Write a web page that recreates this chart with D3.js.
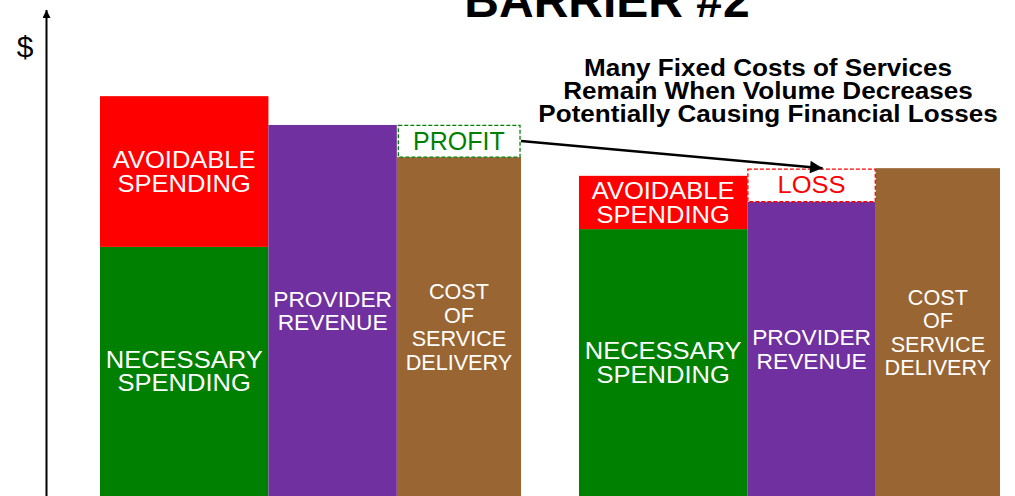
<!DOCTYPE html>
<html>
<head>
<meta charset="utf-8">
<script src="https://cdn.jsdelivr.net/npm/d3@7/dist/d3.min.js"></script>
<style>
  html, body { margin: 0; padding: 0; background: #fff; }
  svg { display: block; font-family: "Liberation Sans", Arial, sans-serif; }
</style>
</head>
<body>
<svg id="chart" width="1015" height="496"></svg>
<script>
// ---- data ----
const scenarios = ["Normal Volume", "Decreased Volume"];
const necessarySpending = [51.9, 55.6];
const avoidableSpending = [31.4, 11.1];
const providerRevenue = [77.3, 61.3];
const costOfServiceDelivery = [70.6, 68.3];

const titleText = "BARRIER #2";
const axisLabel = "$";
const annotationLines = ["Many Fixed Costs of Services", "Remain When Volume Decreases", "Potentially Causing Financial Losses"];
const necessaryLabel = ["NECESSARY", "SPENDING"];
const avoidableLabel = ["AVOIDABLE", "SPENDING"];
const revenueLabel = ["PROVIDER", "REVENUE"];
const costLabel = ["COST", "OF", "SERVICE", "DELIVERY"];
const profitLabel = "PROFIT";
const lossLabel = "LOSS";

// ---- layout ----
const svg = d3.select("#chart");
const C = { red: "#ff0000", green: "#008000", purple: "#7030a0", brown: "#996633" };

const y = d3.scaleLinear().domain([0, 100]).range([496, 16]);
const xGroup = d3.scaleBand().domain(scenarios).range([100, 1000]).paddingInner(0.121).paddingOuter(0);
const colShare = [0.40, 0.305, 0.295];
function col(g, i) {
  const x0 = xGroup(g), bw = xGroup.bandwidth();
  let start = x0;
  for (let k = 0; k < i; k++) start += bw * colShare[k];
  return { x: start, w: bw * colShare[i] };
}

// style per label kind: font size, horizontal stretch
const ST = {
  spend: { fs: 23, sx: 1.11 },
  rev: { fs: 22.3, sx: 1.02 },
  cost: { fs: 22.3, sx: 0.97 },
  profit: { fs: 25, sx: 1.0 },
  loss: { fs: 23, sx: 1.11 }
};
const lh = 23.6;
function multiLabel(lines, cx, cy, color, st) {
  const n = lines.length, capH = 0.716 * st.fs;
  const t = svg.append("text").attr("text-anchor", "middle").attr("font-size", st.fs).attr("fill", color)
    .attr("transform", `translate(${cx},0) scale(${st.sx},1) translate(${-cx},0)`);
  lines.forEach((l, i) => {
    t.append("tspan").attr("x", cx).attr("y", cy + (i - (n - 1) / 2) * lh + capH / 2).text(l);
  });
}

scenarios.forEach((g, gi) => {
  const nec = necessarySpending[gi], av = avoidableSpending[gi];
  const rev = providerRevenue[gi], cost = costOfServiceDelivery[gi];
  const c0 = col(g, 0), c1 = col(g, 1), c2 = col(g, 2);

  svg.append("rect").attr("x", c0.x).attr("y", y(nec)).attr("width", c0.w).attr("height", y(0) - y(nec)).attr("fill", C.green);
  svg.append("rect").attr("x", c0.x).attr("y", y(nec + av)).attr("width", c0.w).attr("height", y(nec) - y(nec + av)).attr("fill", C.red);
  svg.append("rect").attr("x", c1.x).attr("y", y(rev)).attr("width", c1.w).attr("height", y(0) - y(rev)).attr("fill", C.purple);
  svg.append("rect").attr("x", c2.x).attr("y", y(cost)).attr("width", c2.w).attr("height", y(0) - y(cost)).attr("fill", C.brown);

  multiLabel(avoidableLabel, c0.x + c0.w / 2, (y(nec) + y(nec + av)) / 2, "#fff", ST.spend);
  multiLabel(necessaryLabel, c0.x + c0.w / 2, (y(0) + y(nec)) / 2, "#fff", ST.spend);
  multiLabel(revenueLabel, c1.x + c1.w / 2, (y(0) + y(rev)) / 2, "#fff", ST.rev);
  multiLabel(costLabel, c2.x + c2.w / 2, (y(0) + y(cost)) / 2, "#fff", ST.cost);

  if (rev > cost) {
    svg.append("rect").attr("x", c2.x + 1.5).attr("y", y(rev) + 0.5).attr("width", c2.w - 2.5).attr("height", y(cost) - y(rev) - 0.5)
      .attr("fill", "#fff").attr("stroke", C.green).attr("stroke-width", 1.3).attr("stroke-dasharray", "4,2");
    multiLabel([profitLabel], c2.x + c2.w / 2, (y(cost) + y(rev)) / 2, C.green, ST.profit);
  } else {
    svg.append("rect").attr("x", c1.x + 0.5).attr("y", y(cost) + 1).attr("width", c1.w - 1).attr("height", y(rev) - y(cost) - 1)
      .attr("fill", "#fff").attr("stroke", C.red).attr("stroke-width", 1.3).attr("stroke-dasharray", "4,2");
    multiLabel([lossLabel], c1.x + c1.w / 2, (y(rev) + y(cost)) / 2, C.red, ST.loss);
  }
});

// defs
const defs = svg.append("defs");
defs.append("marker").attr("id", "ah").attr("viewBox", "0 0 10 10").attr("refX", 10).attr("refY", 5)
  .attr("markerWidth", 6.5).attr("markerHeight", 5).attr("markerUnits", "strokeWidth").attr("orient", "auto")
  .append("path").attr("d", "M0,0 L10,5 L0,10 Z").attr("fill", "#000");
defs.append("marker").attr("id", "axh").attr("viewBox", "0 0 10 10").attr("refX", 10).attr("refY", 5)
  .attr("markerWidth", 4.5).attr("markerHeight", 4).attr("markerUnits", "strokeWidth").attr("orient", "auto")
  .append("path").attr("d", "M0,0 L10,5 L0,10 Z").attr("fill", "#000");

// y axis (no ticks), with arrowhead
const axisG = svg.append("g").attr("transform", "translate(46.5,0)")
  .call(d3.axisLeft(y.copy().range([496, 10])).tickValues([]).tickSizeOuter(0));
axisG.select(".domain").remove();
svg.append("line").attr("x1", 46.5).attr("x2", 46.5).attr("y1", y(0)).attr("y2", 10)
  .attr("stroke", "#000").attr("stroke-width", 2).attr("marker-end", "url(#axh)");
svg.append("text").attr("x", 25).attr("y", 57).attr("text-anchor", "middle").attr("font-size", 30).attr("fill", "#000").text(axisLabel);

// title
svg.append("text").attr("x", 607).attr("y", 17).attr("text-anchor", "middle").attr("font-size", 48)
  .attr("font-weight", "bold").attr("fill", "#000").text(titleText);

// annotation
const annX = 768;
const ann = svg.append("text").attr("text-anchor", "middle").attr("font-size", 23.3).attr("font-weight", "bold").attr("fill", "#000")
  .attr("transform", `translate(${annX},0) scale(1.12,1) translate(${-annX},0)`);
annotationLines.forEach((l, i) => ann.append("tspan").attr("x", annX).attr("y", 76.5 + i * 23).text(l));

// arrow from profit to loss
const g0 = scenarios[0], g1 = scenarios[1];
const p2 = col(g0, 2), l1 = col(g1, 1);
svg.append("line")
  .attr("x1", p2.x + p2.w).attr("y1", (y(costOfServiceDelivery[0]) + y(providerRevenue[0])) / 2)
  .attr("x2", l1.x + l1.w / 2 + 11).attr("y2", y(costOfServiceDelivery[1]))
  .attr("stroke", "#000").attr("stroke-width", 2.5).attr("marker-end", "url(#ah)");
</script>
</body>
</html>
